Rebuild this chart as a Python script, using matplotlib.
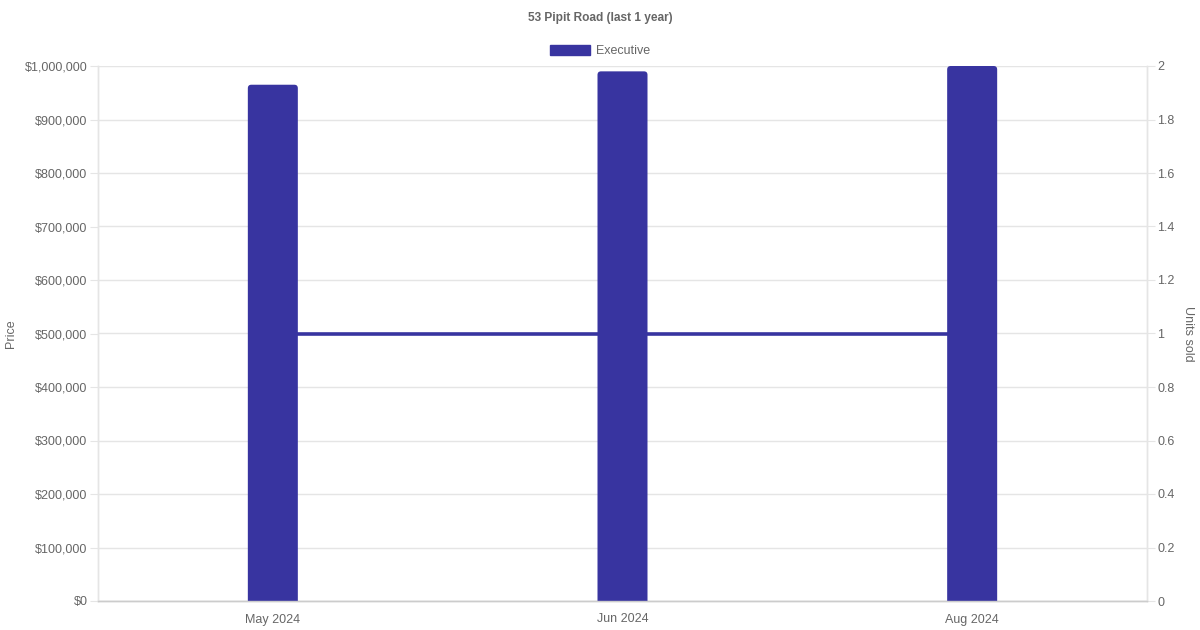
import matplotlib.pyplot as plt
from matplotlib.patches import Patch, FancyBboxPatch
from matplotlib.ticker import FuncFormatter, MultipleLocator

plt.rcParams["font.family"] = ["Liberation Sans", "DejaVu Sans"]

# chart data
months = ["May 2024", "Jun 2024", "Aug 2024"]
prices = [965000, 990000, 1000000]
units_sold = [1, 1, 1]

bar_color = "#3834a0"
text_color = "#666666"
grid_color = "#e5e5e5"

fig = plt.figure(figsize=(12, 6.3), dpi=100)
ax = fig.add_axes([98 / 1200, 1 - 601 / 630, 1049 / 1200, 535 / 630])
ax2 = ax.twinx()

# line on the right axis, drawn behind the bars
x = list(range(len(months)))
ax2.plot(x, units_sold, color=bar_color, linewidth=2.6, solid_capstyle="butt", zorder=3)
ax.set_zorder(ax2.get_zorder() + 1)
ax.patch.set_visible(False)

ax.set_xlim(-0.5, len(months) - 0.5)
ax.set_ylim(0, 1000000)
ax2.set_ylim(0, 2)

bars = ax.bar(x, prices, width=0.143, color=bar_color, zorder=3)

# swap the plain bars for ones with slightly rounded tops
r_x = 3.5 / (1049 / 3)
r_y = 3.5 / 535 * 1000000
for b in bars:
    bx, by, bw, bh = b.get_x(), b.get_y(), b.get_width(), b.get_height()
    b.set_visible(False)
    rb = FancyBboxPatch((bx + r_x, by - r_y * 2), bw - 2 * r_x, bh + r_y,
                        boxstyle=f"round,pad={r_x},rounding_size={r_x}",
                        mutation_aspect=r_y / r_x, facecolor=bar_color,
                        edgecolor="none", zorder=3)
    ax.add_patch(rb)

ax.yaxis.set_major_locator(MultipleLocator(100000))
ax.yaxis.set_major_formatter(FuncFormatter(lambda v, p: f"${v:,.0f}"))
ax2.yaxis.set_major_locator(MultipleLocator(0.2))
ax2.yaxis.set_major_formatter(FuncFormatter(lambda v, p: f"{v:g}"))

ax.set_xticks(x)
ax.set_xticklabels(months)

# grid lives on the lower axes so it stays under the line
ax2.grid(axis="y", color=grid_color, linewidth=1, zorder=0)
ax2.set_axisbelow(True)

for a in (ax, ax2):
    for s in a.spines.values():
        s.set_color(grid_color)
        s.set_linewidth(1)
    a.spines["top"].set_visible(False)
    a.spines["bottom"].set_color("#cccccc")
    a.spines["bottom"].set_zorder(4)

ax.tick_params(axis="y", length=6, color=grid_color, labelcolor=text_color,
               labelsize=9, pad=1.5)
ax2.tick_params(axis="y", length=6, color=grid_color, labelcolor=text_color,
                labelsize=9, pad=1.5)
ax.tick_params(axis="x", length=0, labelcolor=text_color, labelsize=9, pad=9)

ax.set_ylabel("Price", color=text_color, fontsize=9)
ax2.set_ylabel("Units sold", color=text_color, fontsize=9, rotation=270)
ax.yaxis.set_label_coords(-(98 - 17) / 1049, 0.5)
ax2.yaxis.set_label_coords((1194 - 98) / 1049, 0.5)

fig.text(0.5, 1 - 18.5 / 630, "53 Pipit Road (last 1 year)", ha="center",
         va="center", fontsize=8.6, fontweight="bold", color=text_color)

handle = Patch(facecolor=bar_color, edgecolor=bar_color)
fig.legend([handle], ["Executive"], loc="center", bbox_to_anchor=(0.5, 1 - 51 / 630),
           frameon=False, fontsize=9, handlelength=3.2, handleheight=0.95,
           handletextpad=0.5, labelcolor=text_color)

fig.savefig("out.png", dpi=100)
